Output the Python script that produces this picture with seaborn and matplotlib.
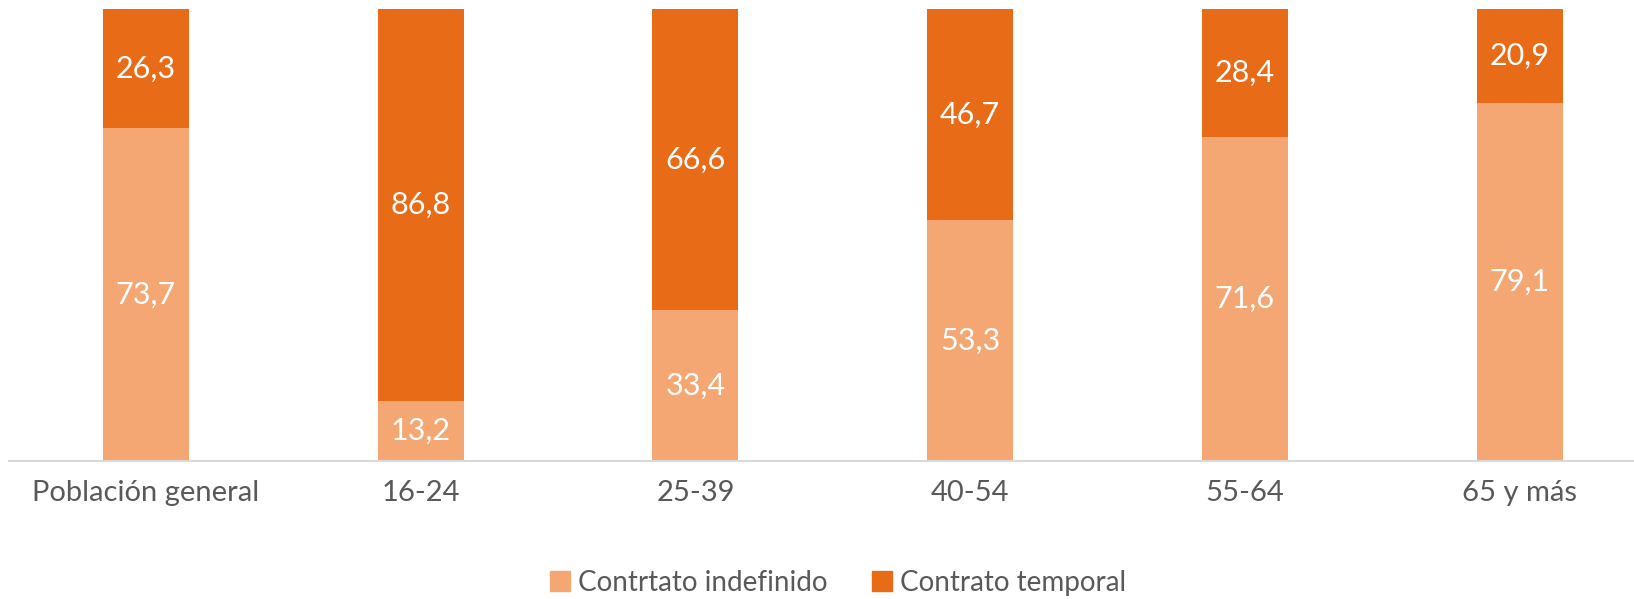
import matplotlib
matplotlib.use('Agg')
import matplotlib.pyplot as plt
import seaborn as sns
import pandas as pd
from matplotlib.patches import Patch

categorias = ['Población general', '16-24', '25-39', '40-54', '55-64', '65 y más']
indefinido = [73.7, 13.2, 33.4, 53.3, 71.6, 79.1]
temporal = [26.3, 86.8, 66.6, 46.7, 28.4, 20.9]

c_indef = '#F4A772'
c_temp = '#E86C17'
gris = '#595959'

sns.set_style('white')
plt.rcParams['font.family'] = ['Lato', 'DejaVu Sans']

df = pd.DataFrame({'cat': categorias, 'indef': indefinido, 'temp': temporal})
df['total'] = df['indef'] + df['temp']

fig = plt.figure(figsize=(16.34, 5.99), dpi=100)
ax = fig.add_axes([8.6 / 1634, 138 / 599, (1657 - 8.6) / 1634, 452 / 599])

sns.barplot(data=df, x='cat', y='total', color=c_temp, width=0.313, ax=ax,
            saturation=1, linewidth=0)
sns.barplot(data=df, x='cat', y='indef', color=c_indef, width=0.313, ax=ax,
            saturation=1, linewidth=0)

for i, (a, b) in enumerate(zip(indefinido, temporal)):
    ax.text(i, a / 2, f'{a:.1f}'.replace('.', ','), ha='center', va='center',
            color='white', fontsize=22)
    ax.text(i, a + b / 2, f'{b:.1f}'.replace('.', ','), ha='center', va='center',
            color='white', fontsize=22)

ax.set_xlim(-0.5, 5.5)
ax.set_ylim(0, 100)
ax.set_xlabel('')
ax.set_ylabel('')
ax.set_yticks([])
for s in ['top', 'right', 'left']:
    ax.spines[s].set_visible(False)
ax.spines['bottom'].set_color('#D9D9D9')
ax.spines['bottom'].set_linewidth(1.5)
ax.tick_params(axis='x', length=0, pad=14, labelsize=21, labelcolor=gris)

handles = [Patch(color=c_indef, label='Contrtato indefinido'),
           Patch(color=c_temp, label='Contrato temporal')]
fig.legend(handles=handles, loc='center', bbox_to_anchor=(0.513, 0.027), ncol=2,
           frameon=False, labelcolor=gris, handlelength=0.7,
           handleheight=0.7, handletextpad=0.3, columnspacing=1.6,
           prop={'size': 20})

fig.savefig('out.png', dpi=100)
